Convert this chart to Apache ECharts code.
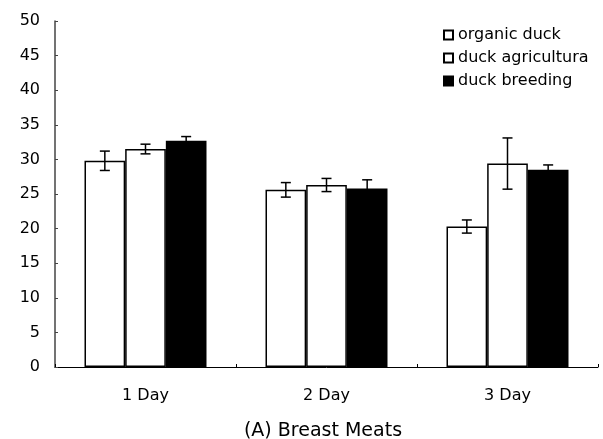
<!DOCTYPE html>
<html>
<head>
<meta charset="utf-8">
<script src="https://cdn.jsdelivr.net/npm/echarts@6/dist/echarts.min.js"></script>
<style>
  html, body { margin: 0; padding: 0; background: #fff; }
  #chart { width: 603px; height: 439px; }
</style>
</head>
<body>
<div id="chart"></div>
<script>
// Breast meat measurements by storage day, mean with error
const days = ['1 Day', '2 Day', '3 Day'];
const seriesNames = ['organic duck', 'duck agricultura', 'duck breeding'];
const organicMean = [29.8, 25.6, 20.3];
const organicErr = [1.4, 1.05, 0.95];
const agriculturaMean = [31.5, 26.3, 29.4];
const agriculturaErr = [0.7, 0.95, 3.7];
const breedingMean = [32.7, 25.8, 28.5];
const breedingErr = [0.6, 1.25, 0.7];
const yTicks = [0, 5, 10, 15, 20, 25, 30, 35, 40, 45, 50];

const means = [organicMean, agriculturaMean, breedingMean];
const errs = [organicErr, agriculturaErr, breedingErr];
const fills = ['#ffffff', '#ffffff', '#000000'];
const CATEGORY_GAP = 0.326;

const FONT = 'DejaVu Sans';
const chart = echarts.init(document.getElementById('chart'), null, { renderer: 'canvas' });

const barSeries = seriesNames.map((name, i) => ({
  name: name,
  type: 'bar',
  data: means[i],
  barGap: '0%',
  barCategoryGap: (CATEGORY_GAP * 100) + '%',
  itemStyle: { color: fills[i], borderColor: '#000', borderWidth: 1.5 },
  z: 2
}));

// Error bars drawn as I-beams centred on each bar
const errSeries = seriesNames.map((name, i) => ({
  name: name + ' error',
  type: 'custom',
  data: days.map((d, j) => [j, means[i][j], errs[i][j]]),
  z: 5,
  renderItem: function (params, api) {
    const cat = api.value(0);
    const m = api.value(1);
    const e = api.value(2);
    const band = api.size([1, 0])[0];
    const barW = band * (1 - CATEGORY_GAP) / 3;
    const cx = api.coord([cat, m])[0] + (i - 1) * barW;
    const yHi = api.coord([cat, m + e])[1];
    const yLo = api.coord([cat, m - e])[1];
    const cap = 5;
    const style = { stroke: '#000', lineWidth: 1.5, fill: null };
    return {
      type: 'group',
      children: [
        { type: 'line', shape: { x1: cx, y1: yHi, x2: cx, y2: yLo }, style: style },
        { type: 'line', shape: { x1: cx - cap, y1: yHi, x2: cx + cap, y2: yHi }, style: style },
        { type: 'line', shape: { x1: cx - cap, y1: yLo, x2: cx + cap, y2: yLo }, style: style }
      ]
    };
  }
}));

const option = {
  animation: false,
  backgroundColor: '#fff',
  title: {
    text: '(A) Breast Meats',
    left: 318,
    top: 417,
    textAlign: 'center',
    textStyle: { fontFamily: FONT, fontSize: 19, fontWeight: 'normal', color: '#000' }
  },
  legend: {
    data: seriesNames,
    orient: 'vertical',
    left: 438,
    top: 22,
    itemWidth: 9,
    itemHeight: 9,
    itemGap: 7,
    icon: 'rect',
    textStyle: { fontFamily: FONT, fontSize: 16, color: '#000' }
  },
  grid: { left: 55, right: 5, top: 21, bottom: 72 },
  xAxis: {
    type: 'category',
    data: days,
    axisLine: { lineStyle: { color: '#000', width: 1 } },
    axisTick: { show: true, inside: true, length: 3, lineStyle: { color: '#000' } },
    axisLabel: { fontFamily: FONT, fontSize: 16, color: '#000', margin: 21 }
  },
  yAxis: {
    type: 'value',
    min: yTicks[0],
    max: yTicks[yTicks.length - 1],
    interval: yTicks[1] - yTicks[0],
    splitLine: { show: false },
    axisLine: { show: true, lineStyle: { color: '#444', width: 1.5 } },
    axisTick: { show: true, inside: true, length: 3, lineStyle: { color: '#444' } },
    axisLabel: { fontFamily: FONT, fontSize: 16, color: '#000', margin: 15 }
  },
  series: barSeries.concat(errSeries)
};

chart.setOption(option);
</script>
</body>
</html>
